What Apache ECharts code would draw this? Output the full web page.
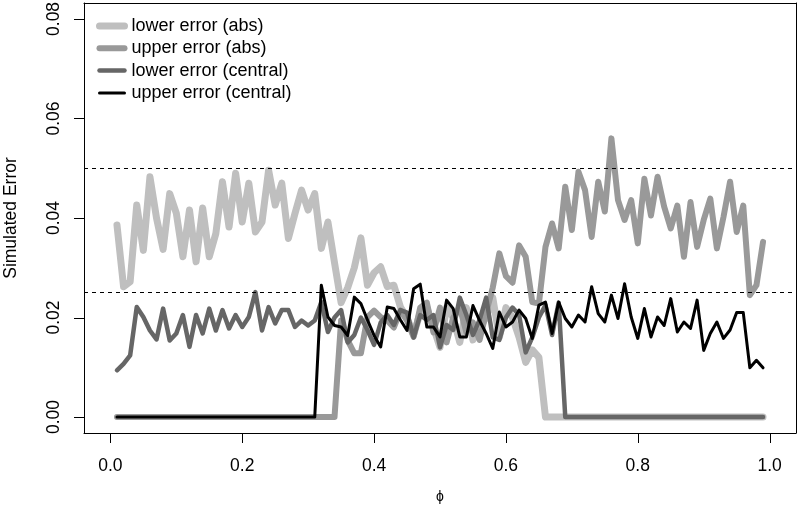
<!DOCTYPE html>
<html>
<head>
<meta charset="utf-8">
<script src="https://cdn.jsdelivr.net/npm/echarts@6/dist/echarts.min.js"></script>
<style>
  html, body { margin: 0; padding: 0; background: #fff; }
  #chart { width: 800px; height: 510px; }
</style>
</head>
<body>
<div id="chart"></div>
<script>
// phi grid: 0.01 .. 0.99
const phi = [
  0.01, 0.02, 0.03, 0.04, 0.05, 0.06, 0.07, 0.08, 0.09, 0.10,
  0.11, 0.12, 0.13, 0.14, 0.15, 0.16, 0.17, 0.18, 0.19, 0.20,
  0.21, 0.22, 0.23, 0.24, 0.25, 0.26, 0.27, 0.28, 0.29, 0.30,
  0.31, 0.32, 0.33, 0.34, 0.35, 0.36, 0.37, 0.38, 0.39, 0.40,
  0.41, 0.42, 0.43, 0.44, 0.45, 0.46, 0.47, 0.48, 0.49, 0.50,
  0.51, 0.52, 0.53, 0.54, 0.55, 0.56, 0.57, 0.58, 0.59, 0.60,
  0.61, 0.62, 0.63, 0.64, 0.65, 0.66, 0.67, 0.68, 0.69, 0.70,
  0.71, 0.72, 0.73, 0.74, 0.75, 0.76, 0.77, 0.78, 0.79, 0.80,
  0.81, 0.82, 0.83, 0.84, 0.85, 0.86, 0.87, 0.88, 0.89, 0.90,
  0.91, 0.92, 0.93, 0.94, 0.95, 0.96, 0.97, 0.98, 0.99
];

const lowerAbs = [
  0.0386, 0.0262, 0.0272, 0.0426, 0.0335, 0.0483, 0.0400, 0.0337, 0.0449, 0.0410,
  0.0322, 0.0416, 0.0312, 0.0420, 0.0322, 0.0369, 0.0473, 0.0382, 0.0490, 0.0392,
  0.0470, 0.0372, 0.0392, 0.0496, 0.0426, 0.0470, 0.0359, 0.0409, 0.0456, 0.0416,
  0.0449, 0.0339, 0.0392, 0.0310, 0.0230, 0.0260, 0.0300, 0.0360, 0.0265, 0.0290,
  0.0302, 0.0262, 0.0265, 0.0221, 0.0200, 0.0165, 0.0210, 0.0220, 0.0180, 0.0140,
  0.0220, 0.0200, 0.0150, 0.0220, 0.0155, 0.0180, 0.0200, 0.0240, 0.0160, 0.0220,
  0.0200, 0.0160, 0.0110, 0.0135, 0.0120, 0, 0, 0, 0, 0,
  0, 0, 0, 0, 0, 0, 0, 0, 0, 0,
  0, 0, 0, 0, 0, 0, 0, 0, 0, 0,
  0, 0, 0, 0, 0, 0, 0, 0, 0
];

const upperAbs = [
  0, 0, 0, 0, 0, 0, 0, 0, 0, 0,
  0, 0, 0, 0, 0, 0, 0, 0, 0, 0,
  0, 0, 0, 0, 0, 0, 0, 0, 0, 0,
  0, 0, 0, 0, 0.0194, 0.0154, 0.0128, 0.0128, 0.0201, 0.0214,
  0.0201, 0.0194, 0.0180, 0.0214, 0.0194, 0.0161, 0.0220, 0.0230, 0.0170, 0.0220,
  0.0150, 0.0200, 0.0220, 0.0170, 0.0190, 0.0155, 0.0210, 0.0260, 0.0329, 0.0283,
  0.0270, 0.0345, 0.0322, 0.0231, 0.0228, 0.0342, 0.0389, 0.0339, 0.0463, 0.0376,
  0.0493, 0.0456, 0.0362, 0.0473, 0.0413, 0.0560, 0.0436, 0.0396, 0.0436, 0.0349,
  0.0479, 0.0405, 0.0483, 0.0423, 0.0379, 0.0425, 0.0322, 0.0432, 0.0342, 0.0396,
  0.0439, 0.0339, 0.0402, 0.0473, 0.0372, 0.0425, 0.0245, 0.0265, 0.0352
];

const lowerCentral = [
  0.0094, 0.0107, 0.0124, 0.0221, 0.0201, 0.0174, 0.0156, 0.0218, 0.0154, 0.0168,
  0.0205, 0.0141, 0.0205, 0.0168, 0.0218, 0.0174, 0.0215, 0.0178, 0.0205, 0.0181,
  0.0201, 0.0251, 0.0174, 0.0221, 0.0188, 0.0215, 0.0215, 0.0181, 0.0194, 0.0184,
  0.0194, 0.0231, 0.0171, 0.0200, 0.0215, 0.0150, 0.0165, 0.0200, 0.0175, 0.0145,
  0.0190, 0.0205, 0.0185, 0.0215, 0.0210, 0.0160, 0.0205, 0.0195, 0.0205, 0.0140,
  0.0185, 0.0175, 0.0240, 0.0205, 0.0165, 0.0195, 0.0240, 0.0160, 0.0155, 0.0200,
  0.0220, 0.0205, 0.0130, 0.0160, 0.0200, 0.0225, 0.0165, 0.0230, 0, 0,
  0, 0, 0, 0, 0, 0, 0, 0, 0, 0,
  0, 0, 0, 0, 0, 0, 0, 0, 0, 0,
  0, 0, 0, 0, 0, 0, 0, 0, 0
];

const upperCentral = [
  0, 0, 0, 0, 0, 0, 0, 0, 0, 0,
  0, 0, 0, 0, 0, 0, 0, 0, 0, 0,
  0, 0, 0, 0, 0, 0, 0, 0, 0, 0,
  0, 0.0265, 0.0201, 0.0184, 0.0181, 0.0164, 0.0241, 0.0228, 0.0195, 0.0164,
  0.0141, 0.0221, 0.0218, 0.0195, 0.0174, 0.0258, 0.0267, 0.0181, 0.0181, 0.0161,
  0.0235, 0.0218, 0.0161, 0.0161, 0.0224, 0.0194, 0.0168, 0.0138, 0.0211, 0.0181,
  0.0191, 0.0215, 0.0198, 0.0158, 0.0225, 0.0231, 0.0168, 0.0231, 0.0198, 0.0181,
  0.0205, 0.0191, 0.0262, 0.0208, 0.0191, 0.0245, 0.0198, 0.0268, 0.0201, 0.0158,
  0.0218, 0.0161, 0.0201, 0.0184, 0.0238, 0.0171, 0.0191, 0.0178, 0.0235, 0.0134,
  0.0168, 0.0191, 0.0158, 0.0175, 0.0210, 0.0210, 0.0099, 0.0114, 0.0099
];

const seriesNames = ['lower error (abs)', 'upper error (abs)', 'lower error (central)', 'upper error (central)'];
const seriesColors = ['#bfbfbf', '#999999', '#666666', '#000000'];
const seriesWidths = [7, 6, 4.5, 3];
const refLines = [0.05, 0.025];
const xTicks = [0, 0.2, 0.4, 0.6, 0.8, 1.0];
const yTicks = [0, 0.02, 0.04, 0.06, 0.08];
const xRange = [-0.04, 1.04];
const yRange = [-0.0032, 0.0832];

const FONT = '"Liberation Sans", Arial, Helvetica, sans-serif';
const TICK = 10;

function lineSeries(idx, values) {
  const color = seriesColors[idx];
  return {
    name: seriesNames[idx],
    type: 'line',
    data: phi.map((x, i) => [x, values[i]]),
    symbol: 'none',
    silent: true,
    lineStyle: { color: color, width: seriesWidths[idx], cap: 'round', join: 'round' },
    itemStyle: { color: color }
  };
}

// outward axis ticks as a custom series; dir 0 = x tick (down), 1 = y tick (left)
function tickSeries(points, dir) {
  return {
    type: 'custom',
    silent: true,
    clip: false,
    z: 10,
    data: points,
    renderItem: function (params, api) {
      const p = api.coord([api.value(0), api.value(1)]);
      const x = Math.round(p[0]) + 0.5;
      const y = Math.round(p[1]) + 0.5;
      const shape = dir === 0
        ? { x1: x, y1: p[1], x2: x, y2: p[1] + TICK }
        : { x1: p[0] - TICK, y1: y, x2: p[0], y2: y };
      return { type: 'line', shape: shape, style: { stroke: '#000', lineWidth: 1 } };
    }
  };
}

const series = [
  lineSeries(0, lowerAbs),
  lineSeries(1, upperAbs),
  lineSeries(2, lowerCentral),
  lineSeries(3, upperCentral),
  tickSeries(xTicks.map(v => [v, yRange[0]]), 0),
  tickSeries(yTicks.map(v => [xRange[0], v]), 1)
];

series[3].markLine = {
  silent: true,
  symbol: 'none',
  precision: 4,
  label: { show: false },
  lineStyle: { color: '#000', width: 1, type: [4, 4] },
  data: refLines.map(v => ({ yAxis: v }))
};

const boxLine = { show: true, onZero: false, lineStyle: { color: '#000', width: 1 } };

const chart = echarts.init(document.getElementById('chart'));

chart.setOption({
  animation: false,
  backgroundColor: '#fff',
  grid: {
    left: 84, right: 4, top: 3, bottom: 77,
    outerBoundsMode: 'none',
    containLabel: false
  },
  legend: {
    left: 91, top: 12,
    orient: 'vertical',
    itemWidth: 25, itemHeight: 17, itemGap: 4.3,
    itemStyle: { opacity: 0 },
    textStyle: { fontSize: 18, color: '#000', fontFamily: FONT, padding: [0, 0, 0, 2] },
    data: seriesNames.map((n, i) => ({
      name: n,
      lineStyle: { width: seriesWidths[i], color: seriesColors[i], cap: 'round' }
    }))
  },
  xAxis: [{
    type: 'value', position: 'bottom',
    min: xRange[0], max: xRange[1],
    axisLine: boxLine,
    splitLine: { show: false },
    axisTick: { show: false },
    axisLabel: {
      customValues: xTicks, formatter: v => v.toFixed(1),
      fontSize: 17.5, color: '#000', fontFamily: FONT, margin: 24
    },
    name: 'ϕ', nameLocation: 'middle', nameGap: 57,
    nameTextStyle: { fontSize: 14, color: '#000', fontFamily: FONT }
  }, {
    type: 'value', position: 'top',
    min: xRange[0], max: xRange[1],
    axisLine: boxLine,
    axisTick: { show: false }, axisLabel: { show: false }, splitLine: { show: false }
  }],
  yAxis: [{
    type: 'value', position: 'left',
    min: yRange[0], max: yRange[1],
    axisLine: boxLine,
    splitLine: { show: false },
    axisTick: { show: false },
    axisLabel: {
      customValues: yTicks, formatter: v => v.toFixed(2), rotate: 90,
      fontSize: 17.5, color: '#000', fontFamily: FONT, margin: 21
    },
    name: 'Simulated Error', nameLocation: 'middle', nameGap: 64, nameRotate: 90,
    nameTextStyle: { fontSize: 17.5, color: '#000', fontFamily: FONT }
  }, {
    type: 'value', position: 'right',
    min: yRange[0], max: yRange[1],
    axisLine: boxLine,
    axisTick: { show: false }, axisLabel: { show: false }, splitLine: { show: false }
  }],
  series: series
});
</script>
</body>
</html>
